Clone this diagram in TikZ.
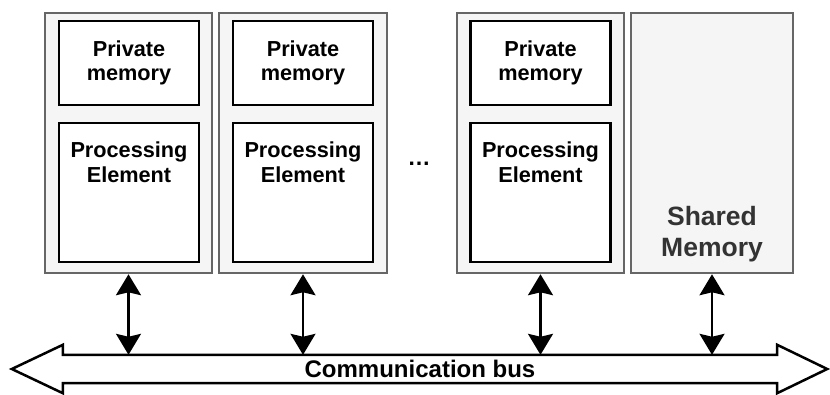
\documentclass[tikz,border=0pt]{standalone}
\usepackage{fontspec}
\setmainfont{Liberation Sans}
\usetikzlibrary{arrows.meta,calc}
\definecolor{boxgray}{HTML}{666666}
\definecolor{boxfill}{HTML}{F5F5F5}
\definecolor{smtext}{HTML}{333333}
\begin{document}
\begin{tikzpicture}[x=1pt,y=-1pt,
  outer/.style={draw=boxgray, fill=boxfill, line width=2.5pt, minimum width=167pt, minimum height=260pt, inner sep=0pt},
  inner/.style={draw=black, fill=white, line width=2.5pt, minimum width=140pt, inner sep=0pt},
  pm/.style={inner, minimum height=84pt, align=center, font=\fontsize{21.7}{24}\selectfont\bfseries},
  pe/.style={inner, minimum height=139pt},
  petext/.style={anchor=north, inner sep=0pt, align=center, font=\fontsize{21.7}{25}\selectfont\bfseries},
  smtxt/.style={anchor=south, inner sep=0pt, align=center, text=smtext, font=\fontsize{26.5}{31}\selectfont\bfseries},
  biarrow/.style={line width=2.2pt, {Stealth[length=21pt,width=25pt,inset=3pt]}-{Stealth[length=21pt,width=25pt,inset=3pt]}},
  busline/.style={draw=black, fill=white, line width=2.5pt, line join=miter}
]
\useasboundingbox (0,0) rectangle (830,394);

% outer boxes
\node[outer] (c1) at (128.5,143) {};
\node[outer, minimum width=168pt] (c2) at (303,143) {};
\node[outer] (c3) at (540.5,143) {};
\node[outer, minimum width=162pt] (sm) at (712,143) {};

% private memories
\node[pm] (pm1) at (129,63) {Private\\memory};
\node[pm] (pm2) at (303,63) {Private\\memory};
\node[pm] (pm3) at (540.5,63) {Private\\memory};

% processing elements
\node[pe] (pe1) at (129,192.5) {};
\node[pe] (pe2) at (303,192.5) {};
\node[pe] (pe3) at (540.5,192.5) {};
\node[petext] (pt1) at ([yshift=-20pt]pe1.north) {Processing\\Element};
\node[petext] (pt2) at ([yshift=-20pt]pe2.north) {Processing\\Element};
\node[petext] (pt3) at ([yshift=-20pt]pe3.north) {Processing\\Element};

% shared memory label
\node[smtxt] (smt) at ([yshift=12pt]sm.south) {Shared\\Memory};

% dots
\node[anchor=base, inner sep=0pt, font=\fontsize{23}{26}\selectfont\bfseries] (dots) at (419,165) {…};

% bus
\node[minimum width=714pt, minimum height=28pt, inner sep=0pt] (busbox) at (420,369) {};
\draw[busline] (busbox.north west) -- (busbox.north east) -- ([yshift=10pt]busbox.north east)
  -- ([xshift=50pt]busbox.east) -- ([yshift=-10pt]busbox.south east) -- (busbox.south east)
  -- (busbox.south west) -- ([yshift=-10pt]busbox.south west) -- ([xshift=-51pt]busbox.west)
  -- ([yshift=10pt]busbox.north west) -- cycle;
\node[inner sep=0pt, font=\fontsize{24}{28}\selectfont\bfseries] (bus) at (busbox.center) {Communication bus};

% connectors
\draw[biarrow] (c1.south) -- (c1.south |- busbox.north);
\draw[biarrow] (c2.south) -- (c2.south |- busbox.north);
\draw[biarrow] (c3.south) -- (c3.south |- busbox.north);
\draw[biarrow] (sm.south) -- (sm.south |- busbox.north);
\end{tikzpicture}
\end{document}
